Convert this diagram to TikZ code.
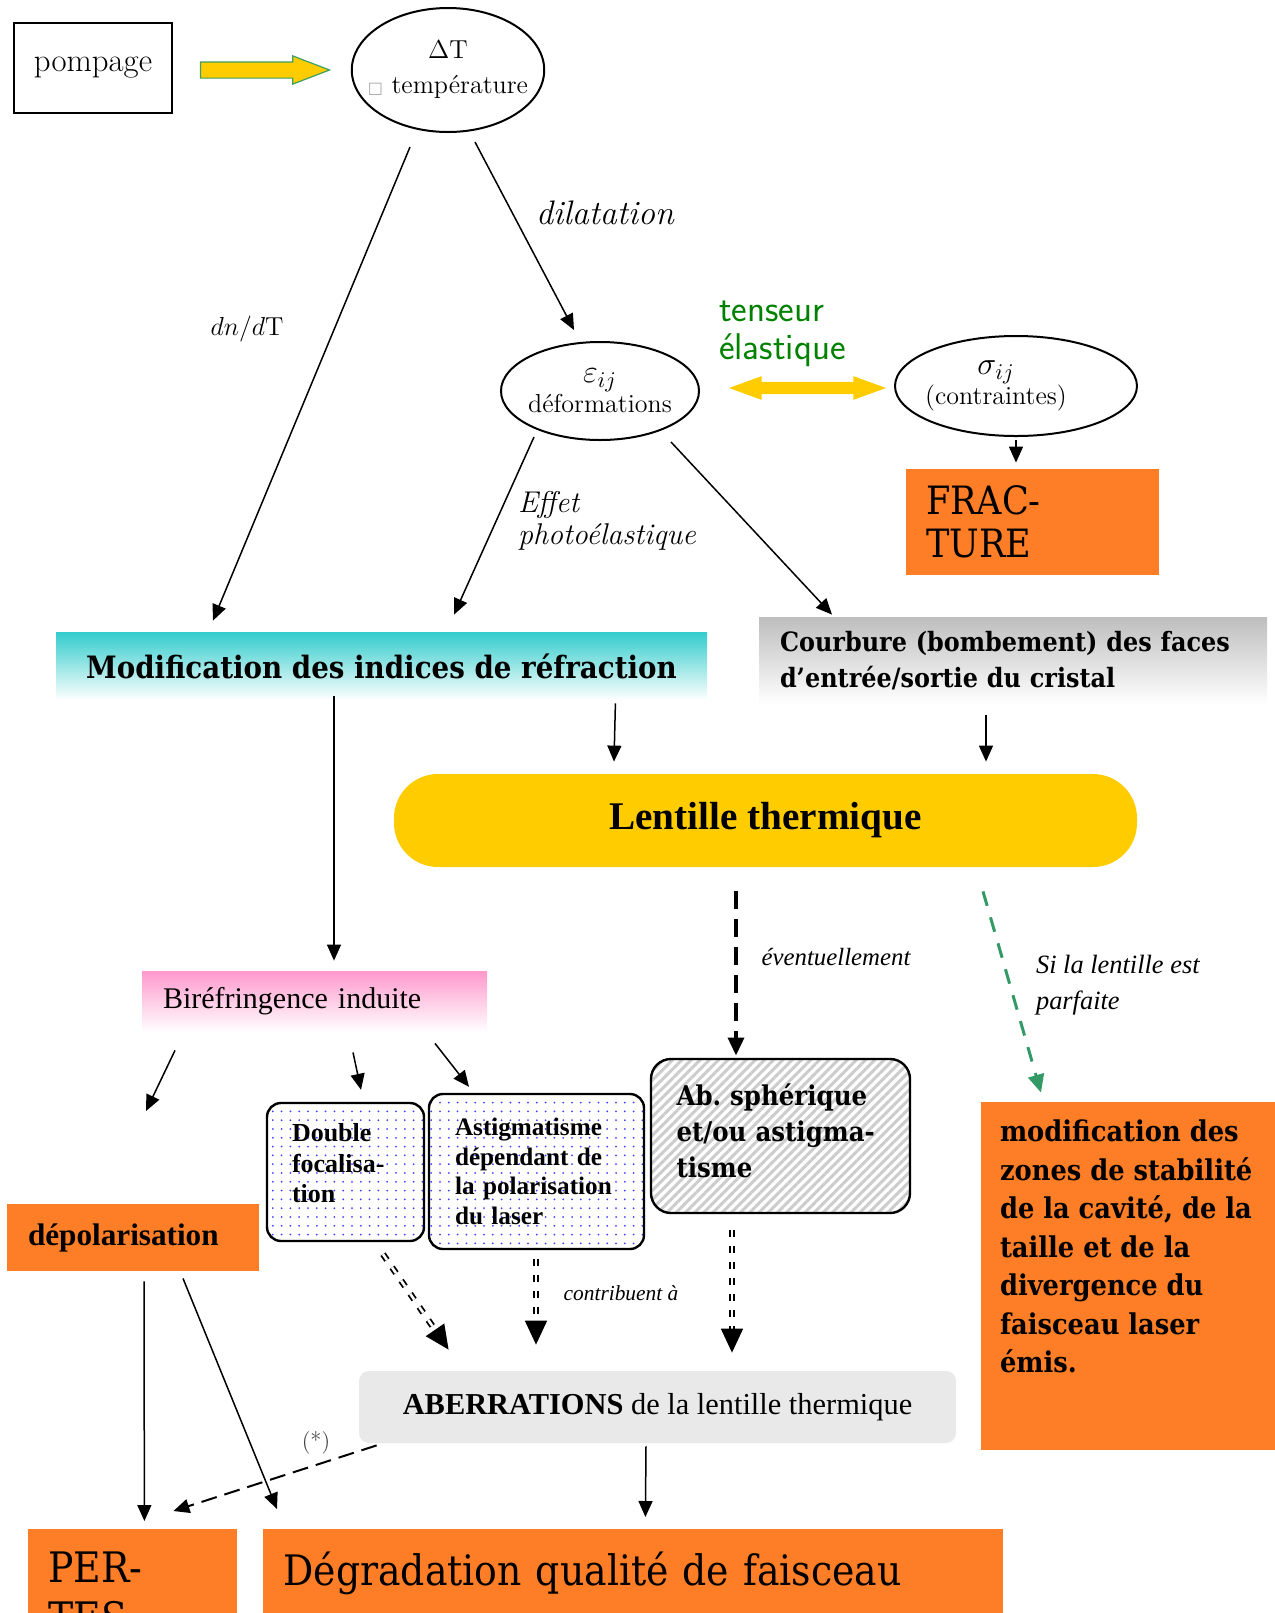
\documentclass[tikz,border=0pt]{standalone}
\usepackage{fix-cm}
\usepackage{fontspec}
\newfontfamily\schola[FakeStretch=0.9]{DejaVu Serif}
\newfontfamily\garam{Liberation Serif}
\newfontfamily\symfont{DejaVu Sans}
\usetikzlibrary{arrows.meta,shapes.geometric,shapes.arrows,patterns.meta}

\definecolor{orangebox}{RGB}{253,126,38}
\definecolor{lensyellow}{RGB}{255,204,0}
\definecolor{cyanmod}{RGB}{51,204,204}
\definecolor{pinkbire}{RGB}{255,153,204}
\definecolor{greytop}{RGB}{190,190,190}
\definecolor{greentxt}{RGB}{0,130,0}
\definecolor{greendash}{RGB}{51,153,102}
\definecolor{greenline}{RGB}{60,160,100}

\newcommand{\fsz}[2]{\fontsize{#1}{#2}\selectfont}

\begin{document}
\begin{tikzpicture}[x=0.5pt, y=-0.5pt,
    >={Triangle[length=8pt,width=7pt]},
    oval/.style={ellipse, draw, line width=1pt, inner sep=0pt, align=center},
    orbox/.style={fill=orangebox, inner ysep=0pt, align=left},
    dotbox/.style={draw, line width=1.2pt, rounded corners=7pt, inner ysep=0pt,
                   align=left, pattern={Dots[distance=4.4pt, radius=0.5pt]},
                   pattern color=blue!75},
    hatchbox/.style={draw, line width=1.2pt, rounded corners=10pt, inner ysep=0pt,
                     align=left, pattern={Lines[angle=45, distance=3.25pt, line width=1.5pt]},
                     pattern color=gray!40},
    pumparrow/.style={single arrow, draw=greenline, fill=lensyellow, line width=0.6pt,
                      inner xsep=0pt, inner ysep=3.75pt, single arrow head extend=3pt,
                      single arrow tip angle=42, minimum height=64.5pt},
    tensarrow/.style={double arrow, fill=lensyellow, inner xsep=0pt, inner ysep=2.85pt,
                      double arrow head extend=2.9pt, double arrow tip angle=40,
                      minimum height=78.5pt},
    arr/.style={->, line width=0.75pt},
    dasharr/.style={-{Triangle[length=9pt,width=8pt]}, line width=1.8pt,
                    dash pattern=on 9pt off 5pt},
    greenarr/.style={-{Triangle[length=9pt,width=8pt]}, line width=1.5pt,
                     greendash, dash pattern=on 7.5pt off 6pt},
    dblarr/.style={-{Triangle[length=12pt,width=11pt]}, double, line width=0.9pt,
                   double distance=1.3pt, dash pattern=on 3.5pt off 4.5pt},
    starr/.style={->, line width=1pt, dash pattern=on 8pt off 4pt},
]
\useasboundingbox (0,0) rectangle (1275,1613);

% Nodes, top part
\node[draw, line width=1.2pt, minimum width=79pt, minimum height=45pt,
      font=\fsz{16.4}{19}] (pomp) at (93,68) {pompage};
\node[oval, inner xsep=-6pt, minimum width=94pt, minimum height=62pt, font=\fsz{13}{17.5}]
    (dT) at (448,70) {$\Delta$T\\{\symfont\fsz{8}{8}\color{black!35}□} température};
\node[oval, inner xsep=-3pt, minimum width=99pt, minimum height=49pt, font=\fsz{13}{15}]
    (eps) at (600,391) {{\fsz{16}{15}$\varepsilon_{ij}$}\\déformations};
\node[oval, inner xsep=-6pt, minimum width=121pt, minimum height=50pt, font=\fsz{13}{15}]
    (sig) at (1016,386)
    {{\fsz{16}{15}$\sigma_{ij}$}\hspace*{20pt}\\(contraintes)\hspace*{20pt}};
\node[orbox, minimum width=126.5pt, minimum height=53pt, text width=106.5pt,
      inner xsep=10pt, font=\schola\fsz{19.5}{21.5}] (frac) at (1032.5,522) {FRAC-\\TURE};

% Nodes, middle part
\node[top color=cyanmod, bottom color=white, minimum width=325.5pt, minimum height=34pt,
      font=\schola\bfseries\fsz{15.4}{18}] (mod) at (381.5,666)
    {Modification des indices de réfraction};
\node[top color=greytop, bottom color=white, minimum width=254pt, minimum height=43.5pt,
      text width=233pt, inner xsep=10.5pt, align=left,
      font=\schola\bfseries\fsz{13.3}{18}] (courb) at (1013,660.5)
    {Courbure (bombement) des faces\\d’entrée/sortie du cristal};
\node[fill=lensyellow, rounded corners=22pt, minimum width=371.5pt, minimum height=46.5pt,
      font=\garam\bfseries\fsz{19.6}{22}] (lent) at (765.5,820.5) {Lentille thermique};
\node[top color=pinkbire, bottom color=white, minimum width=172.5pt, minimum height=30.5pt,
      text width=151.5pt, inner xsep=10.5pt, align=left,
      font=\garam\fsz{15}{18}] (bire) at (314.5,1001.5) {Biréfringence induite};

% Nodes, lower part
\node[dotbox, minimum width=78.5pt, minimum height=69pt, text width=53.5pt,
      inner xsep=12.5pt, font=\garam\bfseries\fsz{13}{15.3}] (dbl) at (345.5,1172)
    {Double\\focalisa-\\tion\\[-6.3pt]\mbox{}};
\node[dotbox, minimum width=107.5pt, minimum height=77.5pt, text width=81.5pt,
      inner xsep=13pt, font=\garam\bfseries\fsz{12.6}{14.8}] (astig) at (536.5,1171.5)
    {Astigmatisme\\dépendant de\\la polarisation\\du laser};
\node[hatchbox, minimum width=129.5pt, minimum height=77pt, text width=104pt,
      inner xsep=12.75pt, font=\schola\bfseries\fsz{13.6}{18}] (absph) at (780.5,1136)
    {Ab.\ sphérique\\et/ou astigma-\\tisme\\[-13pt]\mbox{}};
\node[orbox, minimum width=147pt, minimum height=174pt, inner xsep=9.5pt, inner ysep=9pt,
      font=\schola\bfseries\fsz{14.3}{19.25}] (zones) at (1128,1276)
    {\parbox[t][156pt][t]{128pt}{\raggedright modification des\\zones de stabilité\\de la cavité, de la\\taille et de la\\divergence du\\faisceau laser\\émis.}};
\node[orbox, minimum width=126pt, minimum height=33.5pt, text width=105pt,
      inner xsep=10.5pt, font=\garam\bfseries\fsz{15.6}{18}] (depol) at (133,1237.5)
    {dépolarisation};
\node[fill=gray!17, rounded corners=5pt, minimum width=298.5pt, minimum height=36pt,
      font=\garam\fsz{15.2}{18}] (aber) at (657.5,1407)
    {\textbf{ABERRATIONS} de la lentille thermique};
\node[orbox, anchor=north west, minimum width=104.5pt, text width=84.5pt,
      inner xsep=10pt, inner ysep=11pt, font=\schola\fsz{21}{25}] (pertes) at (28,1529)
    {PER-\\TES};
\node[orbox, anchor=north west, minimum width=370pt, text width=350pt, text depth=30pt,
      inner xsep=10pt, inner ysep=11pt, font=\schola\fsz{21}{25}] (degr) at (263,1529)
    {Dégradation qualité de faisceau};

% Labels
\node[font=\itshape\fsz{17}{20}] (dilat) at (605,213) {dilatation};
\node[font=\fsz{13}{15}] (dndt) at (247,329) {$dn/d\mathrm{T}$};
\node[anchor=west, align=left, text=greentxt, font=\sffamily\fsz{18.6}{19}] (tens)
    at (712,334) {tenseur\\élastique};
\node[anchor=west, align=left, font=\itshape\fsz{15}{16}] (photo) at (511,521)
    {Effet\\photoélastique};
\node[font=\garam\itshape\fsz{12.4}{15}] (evt) at (836,957) {éventuellement};
\node[anchor=west, align=left, font=\garam\itshape\fsz{13.2}{18}] (parf) at (1029,985)
    {Si la lentille est\\parfaite};
\node[font=\garam\itshape\fsz{10.7}{13}] (contr) at (621,1293) {contribuent à};
\node[text=black!75, font=\fsz{11.3}{13}] (star) at (316,1443) {(*)};

% Block arrows
\path ([shift={(10,2)}]pomp.east) -- ([shift={(-25,0)}]dT.west)
    node[midway, pumparrow] (pumparr) {};
\path ([shift={(29,-3)}]eps.east) -- ([shift={(-8,2)}]sig.west)
    node[midway, tensarrow] (tensarr) {};

% Connectors
\draw[arr] ([shift={(-38,14)}]dT.south) -- ([shift={(-168.5,-11)}]mod.north);
\draw[arr] ([shift={(27,9)}]dT.south) -- ([shift={(-26,-11)}]eps.north);
\draw[arr] ([shift={(0,3)}]sig.south) -- ([shift={(-16.5,-6)}]frac.north);
\draw[arr] ([shift={(-66,-4)}]eps.south) -- ([shift={(72.5,-17)}]mod.north);
\draw[arr] ([shift={(71,1)}]eps.south) -- ([shift={(-181,-2)}]courb.north);
\draw[arr] ([shift={(-92,3)}]mod.south east) -- ([shift={(-151.5,-12)}]lent.north);
\draw[arr] ([shift={(-27,11)}]courb.south) -- ([shift={(220.5,-12)}]lent.north);
\draw[arr] ([shift={(-47.5,-4)}]mod.south) -- ([shift={(19.5,-10)}]bire.north);
\draw[dasharr] ([shift={(-29.5,24)}]lent.south) -- ([shift={(-44.5,-2)}]absph.north);
\draw[greenarr] ([shift={(217.5,24)}]lent.south) -- ([shift={(-87,-9)}]zones.north);

% Birefringence outputs
\coordinate (bireleft) at (146,1111);
\draw[arr] ([shift={(-139.5,18)}]bire.south) -- (bireleft);
\draw[arr] ([shift={(38.5,20)}]bire.south) -- ([shift={(15.5,-12)}]dbl.north);
\draw[arr] ([shift={(120.5,11)}]bire.south) -- ([shift={(-67.5,-6)}]astig.north);

% Contributions to aberrations
\draw[dblarr] ([shift={(37.5,12)}]dbl.south) -- ([shift={(90,-21)}]aber.north west);
\draw[dblarr] ([shift={(-0.5,9)}]astig.south) -- ([shift={(-121.5,-26)}]aber.north);
\draw[dblarr] ([shift={(-48.5,15)}]absph.south) -- ([shift={(74.5,-18)}]aber.north);

% Bottom
\draw[arr] ([shift={(11,10)}]depol.south) -- ([shift={(11.5,-8)}]pertes.north);
\draw[arr] ([shift={(50,7)}]depol.south) -- ([shift={(14,-20)}]degr.north west);
\draw[starr] ([shift={(18,2)}]aber.south west) -- ([shift={(40.5,-18)}]pertes.north);
\draw[arr] ([shift={(-11.5,3)}]aber.south) -- ([shift={(12,-12)}]degr.north);

\end{tikzpicture}
\end{document}
